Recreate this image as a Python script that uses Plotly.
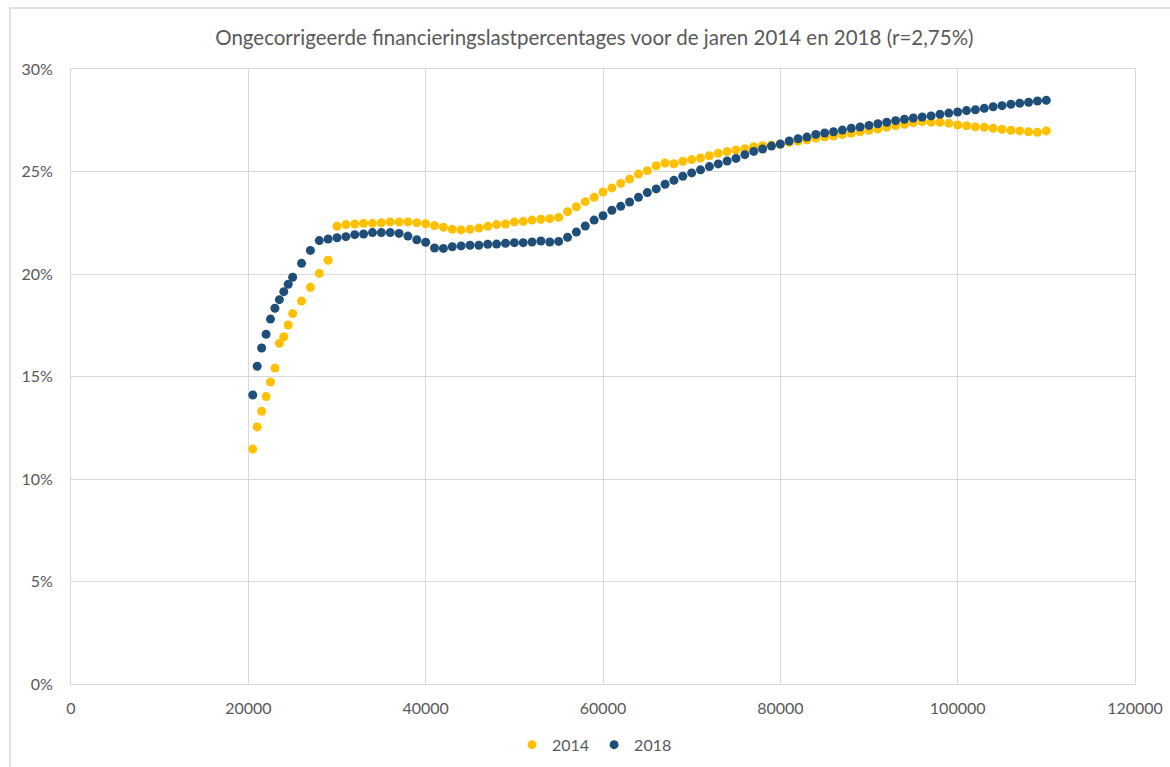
import plotly.graph_objects as go

# inkomen (x-as)
inkomen = [
    20500, 21000, 21500, 22000, 22500, 23000, 23500, 24000, 24500, 25000,
    26000, 27000, 28000, 29000, 30000, 31000, 32000, 33000, 34000, 35000,
    36000, 37000, 38000, 39000, 40000, 41000, 42000, 43000, 44000, 45000,
    46000, 47000, 48000, 49000, 50000, 51000, 52000, 53000, 54000, 55000,
    56000, 57000, 58000, 59000, 60000, 61000, 62000, 63000, 64000, 65000,
    66000, 67000, 68000, 69000, 70000, 71000, 72000, 73000, 74000, 75000,
    76000, 77000, 78000, 79000, 80000, 81000, 82000, 83000, 84000, 85000,
    86000, 87000, 88000, 89000, 90000, 91000, 92000, 93000, 94000, 95000,
    96000, 97000, 98000, 99000, 100000, 101000, 102000, 103000, 104000, 105000,
    106000, 107000, 108000, 109000, 110000,
]

# financieringslastpercentages (%)
pct_2014 = [
    11.46, 12.54, 13.30, 14.02, 14.73, 15.41, 16.62, 16.94, 17.51, 18.07,
    18.68, 19.35, 20.03, 20.67, 22.33, 22.41, 22.44, 22.47, 22.47, 22.50,
    22.54, 22.54, 22.54, 22.50, 22.45, 22.36, 22.28, 22.18, 22.15, 22.18,
    22.24, 22.33, 22.41, 22.44, 22.54, 22.57, 22.63, 22.67, 22.70, 22.76,
    23.04, 23.28, 23.53, 23.74, 24.00, 24.20, 24.42, 24.63, 24.88, 25.04,
    25.28, 25.41, 25.38, 25.50, 25.58, 25.66, 25.77, 25.89, 25.97, 26.05,
    26.11, 26.21, 26.26, 26.29, 26.33, 26.42, 26.47, 26.55, 26.63, 26.68,
    26.73, 26.80, 26.86, 26.94, 27.01, 27.07, 27.16, 27.23, 27.30, 27.38,
    27.43, 27.40, 27.40, 27.35, 27.27, 27.23, 27.18, 27.16, 27.11, 27.06,
    27.01, 26.98, 26.94, 26.91, 26.98,
]

pct_2018 = [
    14.10, 15.50, 16.39, 17.06, 17.80, 18.33, 18.75, 19.14, 19.50, 19.84,
    20.52, 21.15, 21.63, 21.71, 21.77, 21.82, 21.92, 21.95, 22.02, 22.02,
    22.02, 21.98, 21.85, 21.67, 21.55, 21.27, 21.25, 21.33, 21.37, 21.40,
    21.40, 21.45, 21.46, 21.50, 21.53, 21.53, 21.56, 21.61, 21.56, 21.59,
    21.79, 22.05, 22.34, 22.63, 22.84, 23.11, 23.30, 23.51, 23.74, 23.97,
    24.15, 24.38, 24.57, 24.77, 24.93, 25.08, 25.24, 25.37, 25.51, 25.64,
    25.82, 25.98, 26.10, 26.24, 26.34, 26.49, 26.60, 26.68, 26.81, 26.88,
    26.94, 27.02, 27.11, 27.17, 27.25, 27.33, 27.40, 27.48, 27.55, 27.61,
    27.66, 27.71, 27.79, 27.85, 27.90, 27.97, 28.01, 28.08, 28.16, 28.21,
    28.28, 28.33, 28.38, 28.44, 28.47,
]

x_ticks = [0, 20000, 40000, 60000, 80000, 100000, 120000]
y_ticks = [0, 5, 10, 15, 20, 25, 30]
y_labels = ["0%", "5%", "10%", "15%", "20%", "25%", "30%"]

font_fam = "Lato, 'Open Sans', sans-serif"
grijs = "#595959"

fig = go.Figure()
fig.add_trace(go.Scatter(x=inkomen, y=pct_2014, mode="markers", name="2014",
                         marker=dict(color="#FFC000", size=9)))
fig.add_trace(go.Scatter(x=inkomen, y=pct_2018, mode="markers", name="2018",
                         marker=dict(color="#1F4E79", size=9)))

fig.update_layout(
    width=1170, height=767,
    margin=dict(l=71, r=35, t=69, b=83, autoexpand=False),
    paper_bgcolor="white", plot_bgcolor="white",
    font=dict(family=font_fam, color=grijs, size=16),
    title=dict(text="Ongecorrigeerde financieringslastpercentages voor de jaren 2014 en 2018 (r=2,75%)",
               x=0.508, xanchor="center", y=0.951, yanchor="middle",
               font=dict(size=20.5, color=grijs)),
    legend=dict(orientation="h", x=0.492, xanchor="center",
                yref="container", y=0.029, yanchor="middle",
                font=dict(size=16, color=grijs), itemwidth=30, tracegroupgap=0),
    showlegend=True,
)
fig.update_xaxes(range=[0, 120000], tickvals=x_ticks, ticktext=[str(v) for v in x_ticks],
                 showgrid=True, gridcolor="#d9d9d9", gridwidth=1, zeroline=False,
                 showline=True, mirror=True, linecolor="#d9d9d9", linewidth=1,
                 ticks="outside", ticklen=10, tickcolor="rgba(0,0,0,0)", automargin=False)
fig.update_yaxes(range=[0, 30], tickvals=y_ticks, ticktext=y_labels,
                 showgrid=True, gridcolor="#d9d9d9", gridwidth=1, zeroline=False,
                 showline=True, mirror=True, linecolor="#d9d9d9", linewidth=1,
                 ticks="outside", ticklen=14, tickcolor="rgba(0,0,0,0)", automargin=False)

# rand om het grafiekgebied
fig.add_shape(type="rect", xref="paper", yref="paper",
              x0=-0.0573, x1=1.05, y0=-0.2, y1=1.0992,
              line=dict(color="#d9d9d9", width=1.5), layer="below")

fig.write_html("out.html", config={"displayModeBar": False},
               post_script="document.body.style.margin='0';")
